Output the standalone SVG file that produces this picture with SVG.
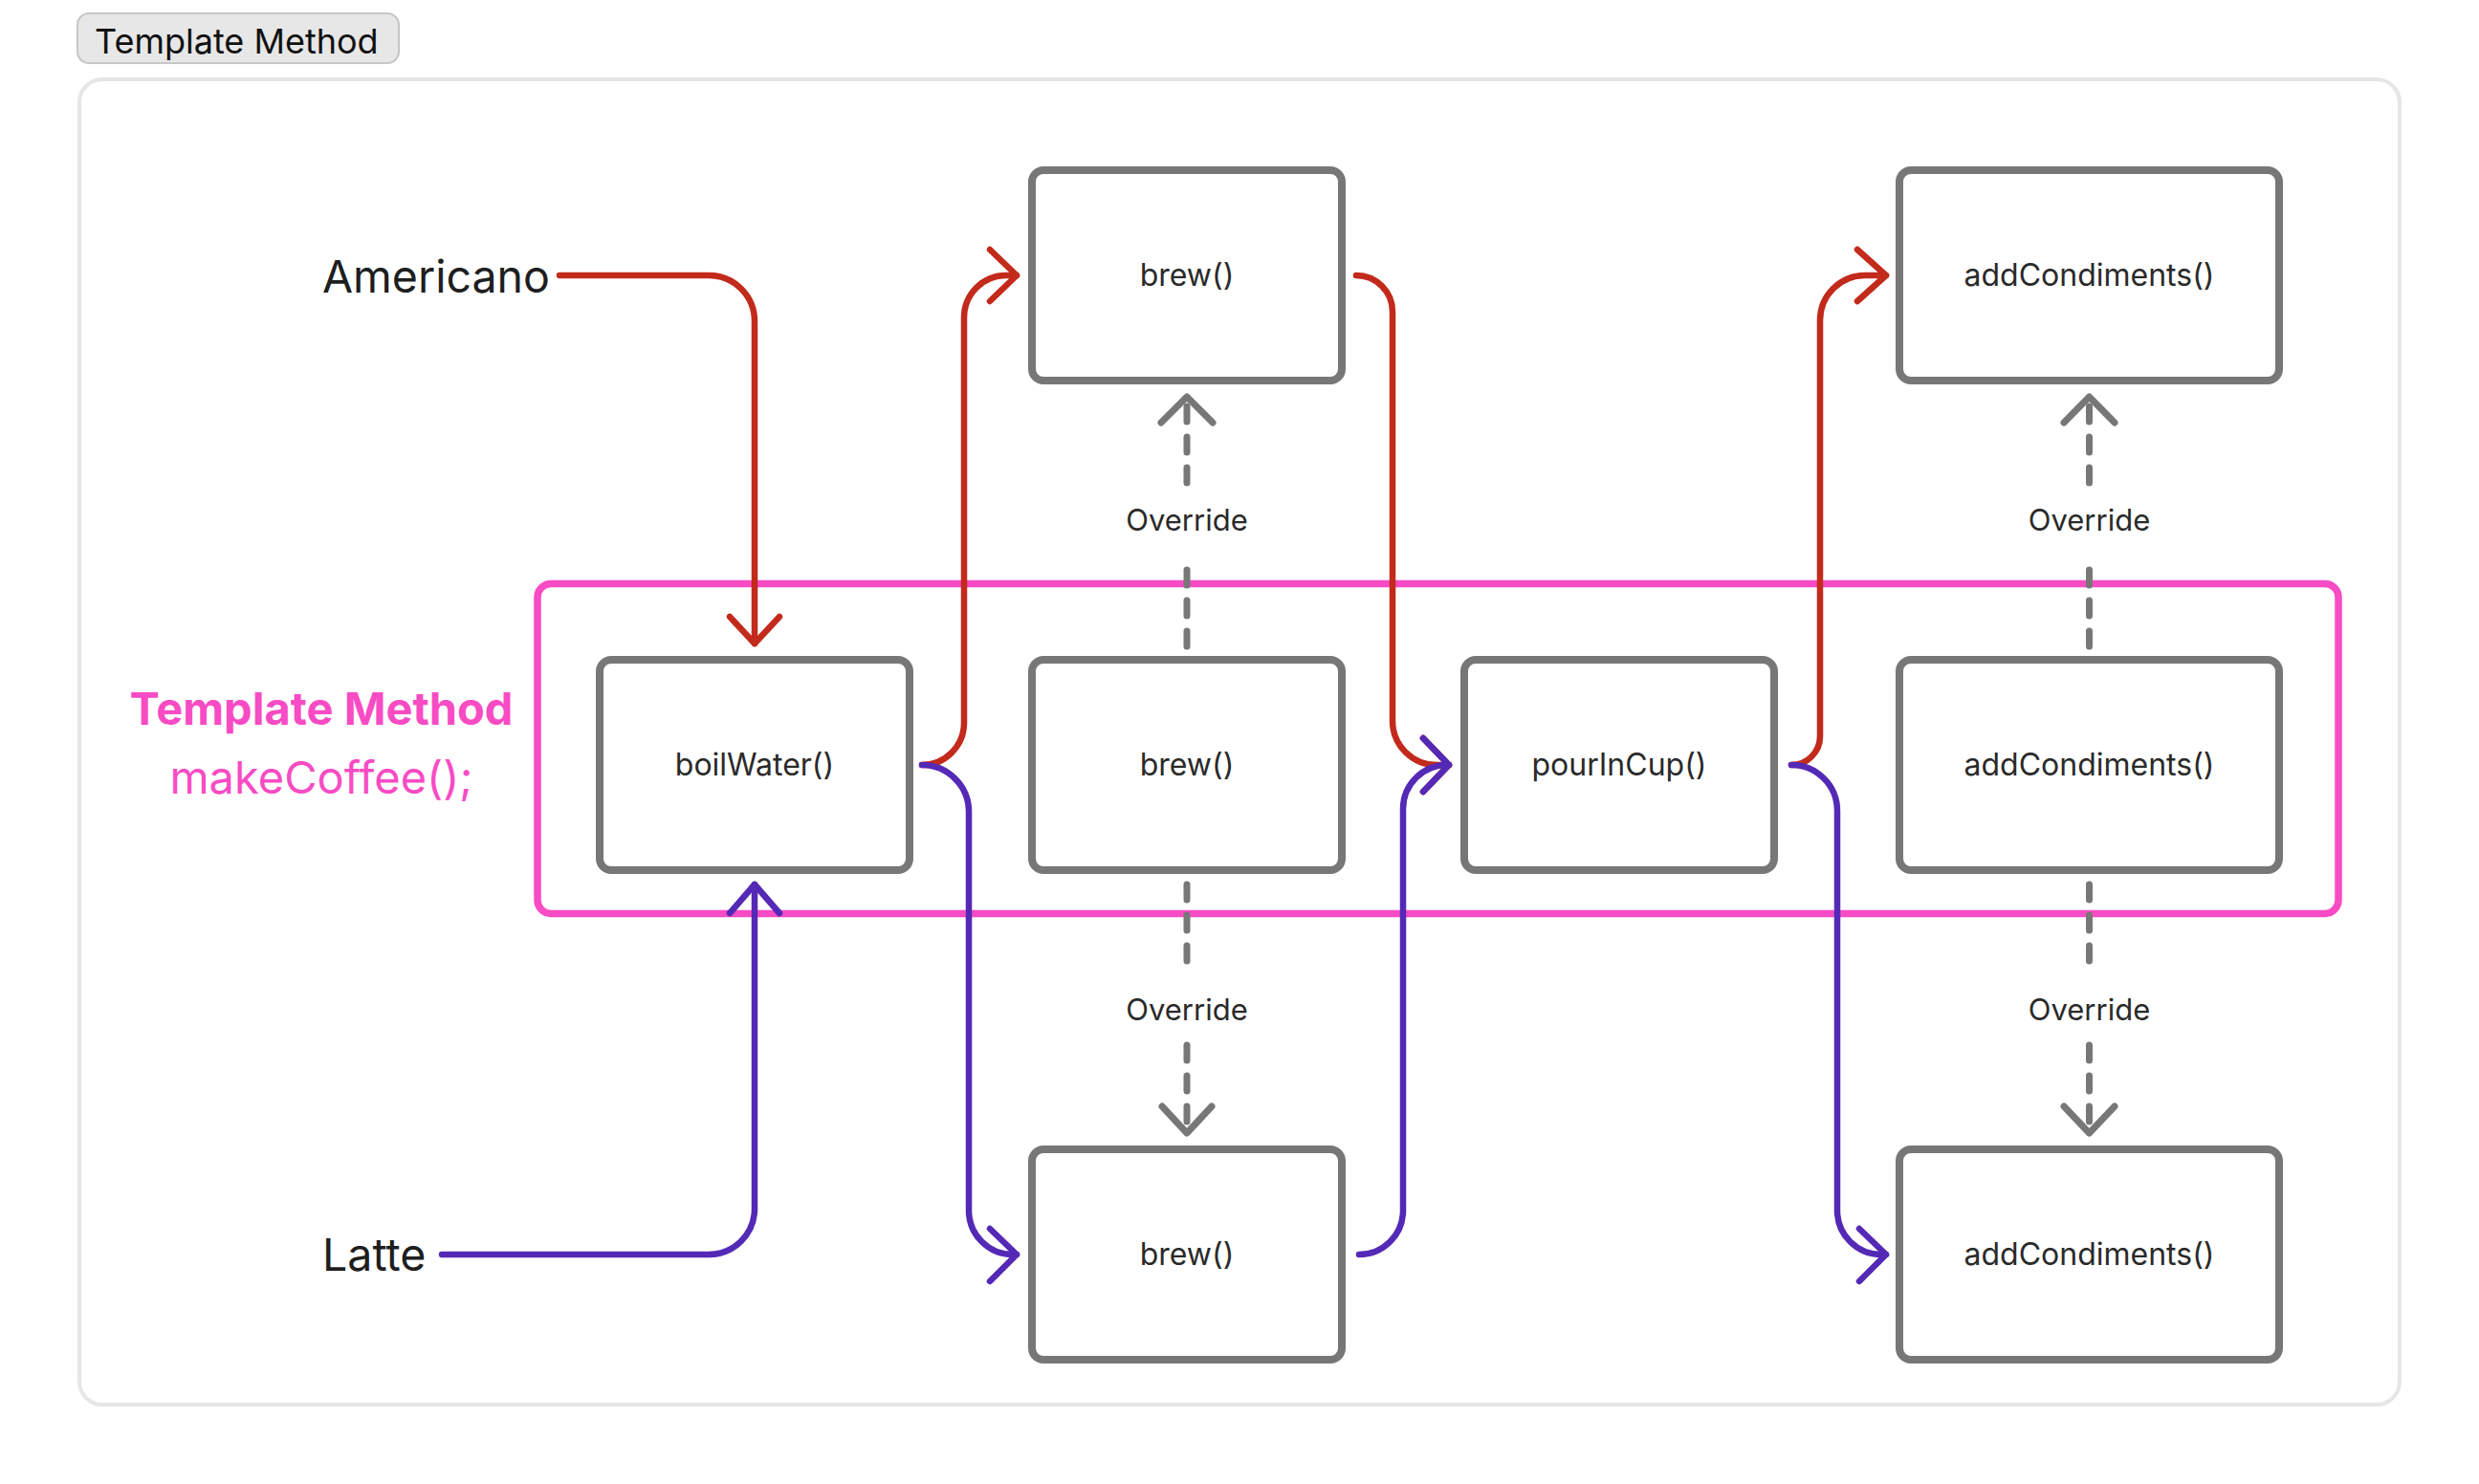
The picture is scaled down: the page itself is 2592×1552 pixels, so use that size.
<svg xmlns="http://www.w3.org/2000/svg" width="2592" height="1552" viewBox="0 0 2592 1552">
<defs>
<style>
.box{fill:#fff;stroke:#777;stroke-width:8}
.lbl{font-family:Inter,"Liberation Sans",sans-serif;font-size:32px;fill:#2a2a2a;text-anchor:middle}
.ovr{font-family:Inter,"Liberation Sans",sans-serif;font-size:31px;fill:#2a2a2a;text-anchor:middle}
.big{font-family:Inter,"Liberation Sans",sans-serif;font-size:46.5px;fill:#1e1e1e}
.pink{font-family:Inter,"Liberation Sans",sans-serif;font-size:47px;fill:#f84bc4;text-anchor:middle}
.red{fill:none;stroke:#c22a1b;stroke-width:6.5;stroke-linecap:round;stroke-linejoin:round}
.pur{fill:none;stroke:#5429b6;stroke-width:6.5;stroke-linecap:round;stroke-linejoin:round}
.dash{fill:none;stroke:#777;stroke-width:7;stroke-linecap:round;stroke-dasharray:16 16}
.ovh{fill:none;stroke:#777;stroke-width:7;stroke-linecap:round;stroke-linejoin:round}
</style>
</defs>
<rect width="2592" height="1552" fill="#fff"/>
<g id="title">
<rect x="81" y="14" width="336" height="52" rx="12" fill="#e7e7e7" stroke="#c6c6c6" stroke-width="2"/>
<text x="99" y="56" font-family="Inter,'Liberation Sans',sans-serif" font-size="36" fill="#111">Template Method</text>
</g>
<g id="container">
<rect x="83" y="83" width="2426" height="1386" rx="24" fill="#fff" stroke="#e6e6e6" stroke-width="4"/>
</g>
<g id="template-frame">
<rect x="562" y="610.5" width="1883" height="345" rx="14" fill="none" stroke="#f84bc4" stroke-width="7.5"/>
<text class="pink" x="336" y="758" font-weight="700">Template Method</text>
<text class="pink" x="336" y="830">makeCoffee();</text>
</g>
<g id="americano"><text class="big" x="337" y="306">Americano</text></g>
<g id="latte"><text class="big" x="337" y="1329">Latte</text></g>

<g id="boilWater"><rect class="box" x="627" y="690" width="324" height="220" rx="12"/><text class="lbl" x="789" y="811">boilWater()</text></g>
<g id="brew-top"><rect class="box" x="1079" y="178" width="324" height="220" rx="12"/><text class="lbl" x="1241" y="299">brew()</text></g>
<g id="brew-mid"><rect class="box" x="1079" y="690" width="324" height="220" rx="12"/><text class="lbl" x="1241" y="811">brew()</text></g>
<g id="brew-bot"><rect class="box" x="1079" y="1202" width="324" height="220" rx="12"/><text class="lbl" x="1241" y="1323">brew()</text></g>
<g id="pourInCup"><rect class="box" x="1531" y="690" width="324" height="220" rx="12"/><text class="lbl" x="1693" y="811">pourInCup()</text></g>
<g id="add-top"><rect class="box" x="1986" y="178" width="397" height="220" rx="12"/><text class="lbl" x="2184.5" y="299">addCondiments()</text></g>
<g id="add-mid"><rect class="box" x="1986" y="690" width="397" height="220" rx="12"/><text class="lbl" x="2184.5" y="811">addCondiments()</text></g>
<g id="add-bot"><rect class="box" x="1986" y="1202" width="397" height="220" rx="12"/><text class="lbl" x="2184.5" y="1323">addCondiments()</text></g>

<g id="connectors">
<path class="dash" d="M1241,676 V585 M1241,505 V420"/>
<path class="ovh" d="M1214,442 L1241,415 L1268,442"/>
<text class="ovr" x="1241" y="555">Override</text>
<path class="dash" d="M1241,925 V1017 M1241,1093 V1180"/>
<path class="ovh" d="M1215,1157 L1241,1185 L1267,1157"/>
<text class="ovr" x="1241" y="1067">Override</text>
<path class="dash" d="M2184.5,676 V585 M2184.5,505 V420"/>
<path class="ovh" d="M2158,442 L2184.5,415 L2211,442"/>
<text class="ovr" x="2184.5" y="555">Override</text>
<path class="dash" d="M2184.5,925 V1017 M2184.5,1093 V1180"/>
<path class="ovh" d="M2158,1157 L2184.5,1185 L2211,1157"/>
<text class="ovr" x="2184.5" y="1067">Override</text>

<path class="red" d="M585,288 H741 A48,48 0 0 1 789,336 V673"/>
<path class="red" d="M763,645 L789,673 L815,645"/>
<path class="red" d="M964,800 A44,44 0 0 0 1008,756 V332 A44,44 0 0 1 1052,288 H1063"/>
<path class="red" d="M1035,261 L1063,288 L1035,315"/>
<path class="red" d="M1418,288 A38,38 0 0 1 1456,326 V754 A46,46 0 0 0 1502,800 H1515"/>
<path class="red" d="M1488,772 L1515,800 L1488,828"/>
<path class="red" d="M1873,800 A30,30 0 0 0 1903,770 V335 A47,47 0 0 1 1950,288 H1972"/>
<path class="red" d="M1942,261 L1972,288 L1942,315"/>

<path class="pur" d="M462,1312 H741 A48,48 0 0 0 789,1264 V925"/>
<path class="pur" d="M763,955 L789,925 L815,955"/>
<path class="pur" d="M964,800 A49,49 0 0 1 1013,849 V1266 A46,46 0 0 0 1059,1312 H1063"/>
<path class="pur" d="M1035,1285 L1063,1312 L1035,1340"/>
<path class="pur" d="M1421,1312 A46,46 0 0 0 1467,1266 V846 A46,46 0 0 1 1513,800 H1515"/>
<path class="pur" d="M1488,772 L1515,800 L1488,828"/>
<path class="pur" d="M1873,800 A48,48 0 0 1 1921,848 V1266 A46,46 0 0 0 1967,1312 H1972"/>
<path class="pur" d="M1944,1285 L1972,1312 L1944,1340"/>
</g>
</svg>
